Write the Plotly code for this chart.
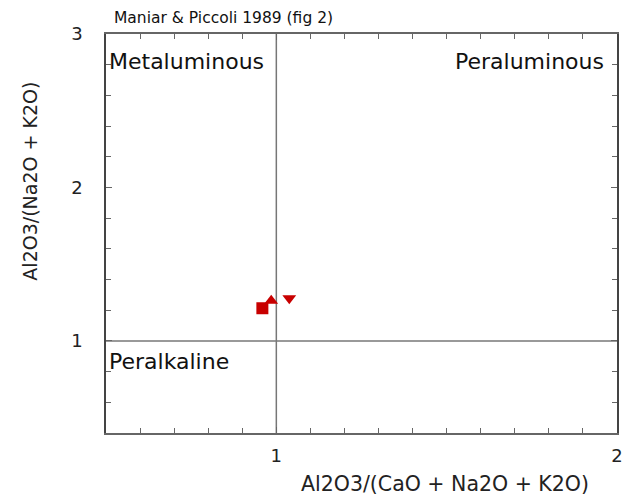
import plotly.graph_objects as go

# Data
sample_names = ["Sample A", "Sample B", "Sample C"]
acnk = [0.959, 0.985, 1.038]      # Al2O3/(CaO + Na2O + K2O)
ank = [1.213, 1.262, 1.278]       # Al2O3/(Na2O + K2O)
symbols = ["square", "triangle-up", "triangle-down"]

x_range = [0.5, 2.0]
y_range = [0.4, 3.0]
x_ticks = [1, 2]
y_ticks = [1, 2, 3]
divider_x = 1.0
divider_y = 1.0

FONT = "DejaVu Sans"
RED = "#c80000"
AXIS = "#666666"

fig = go.Figure()
for name, xv, yv, sym in zip(sample_names, acnk, ank, symbols):
    fig.add_trace(go.Scatter(
        x=[xv], y=[yv], mode="markers", name=name,
        marker=dict(symbol=sym, size=12, color=RED, line=dict(width=0)),
        showlegend=False))

fig.add_shape(type="line", xref="x", yref="paper", x0=divider_x, x1=divider_x,
              y0=0, y1=1, line=dict(color="#777777", width=1.5), layer="below")
fig.add_shape(type="line", xref="paper", yref="y", x0=0, x1=1,
              y0=divider_y, y1=divider_y, line=dict(color="#777777", width=1.5), layer="below")

fig.update_xaxes(range=x_range, tickvals=x_ticks, ticktext=[str(t) for t in x_ticks],
                 ticks="inside", ticklen=6, tickcolor=AXIS, ticklabelstandoff=6,
                 minor=dict(dtick=0.1, ticks="inside", ticklen=5, tickcolor=AXIS),
                 showgrid=False, zeroline=False, showline=True, linecolor=AXIS,
                 linewidth=1.5, mirror="ticks",
                 tickfont=dict(family=FONT, size=18, color="#222"))
fig.update_yaxes(range=y_range, tickvals=y_ticks, ticktext=[str(t) for t in y_ticks],
                 ticks="inside", ticklen=6, tickcolor=AXIS, ticklabelstandoff=18,
                 minor=dict(dtick=0.2, tick0=0, ticks="inside", ticklen=5, tickcolor=AXIS),
                 showgrid=False, zeroline=False, showline=True, linecolor="#444444",
                 linewidth=1.5, mirror="ticks",
                 tickfont=dict(family=FONT, size=18, color="#222"))

ann = dict(font=dict(family=FONT, size=22, color="#111"), showarrow=False)
fig.add_annotation(text="Metaluminous", xref="paper", yref="paper", x=0.0, y=1.0,
                   xanchor="left", yanchor="top", xshift=1, yshift=-13, **ann)
fig.add_annotation(text="Peraluminous", xref="paper", yref="paper", x=1.0, y=1.0,
                   xanchor="right", yanchor="top", xshift=-11, yshift=-13, **ann)
fig.add_annotation(text="Peralkaline", xref="paper", yref="y", x=0.0, y=divider_y,
                   xanchor="left", yanchor="top", xshift=1, yshift=-6, **ann)

fig.add_annotation(text="Maniar &amp; Piccoli 1989 (fig 2)", xref="paper", yref="paper",
                   x=0.0, y=1.0, xanchor="left", yanchor="bottom", xshift=6, yshift=5,
                   font=dict(family=FONT, size=15.5, color="#111"), showarrow=False)
fig.add_annotation(text="Al2O3/(CaO + Na2O + K2O)", xref="paper", yref="paper",
                   x=0.663, y=0, xanchor="center", yanchor="top", yshift=-37,
                   font=dict(family=FONT, size=20.5, color="#222"), showarrow=False)
fig.add_annotation(text="Al2O3/(Na2O + K2O)", xref="paper", yref="paper",
                   x=0, y=0.63, xanchor="center", yanchor="middle", xshift=-76,
                   textangle=-90,
                   font=dict(family=FONT, size=19, color="#222"), showarrow=False)

# the page body adds an 8px offset, so the figure is 8px smaller than the window
fig.update_layout(width=627, height=491, margin=dict(l=98, r=13, t=26, b=66),
                  plot_bgcolor="white", paper_bgcolor="white")
fig.write_html("out.html")
